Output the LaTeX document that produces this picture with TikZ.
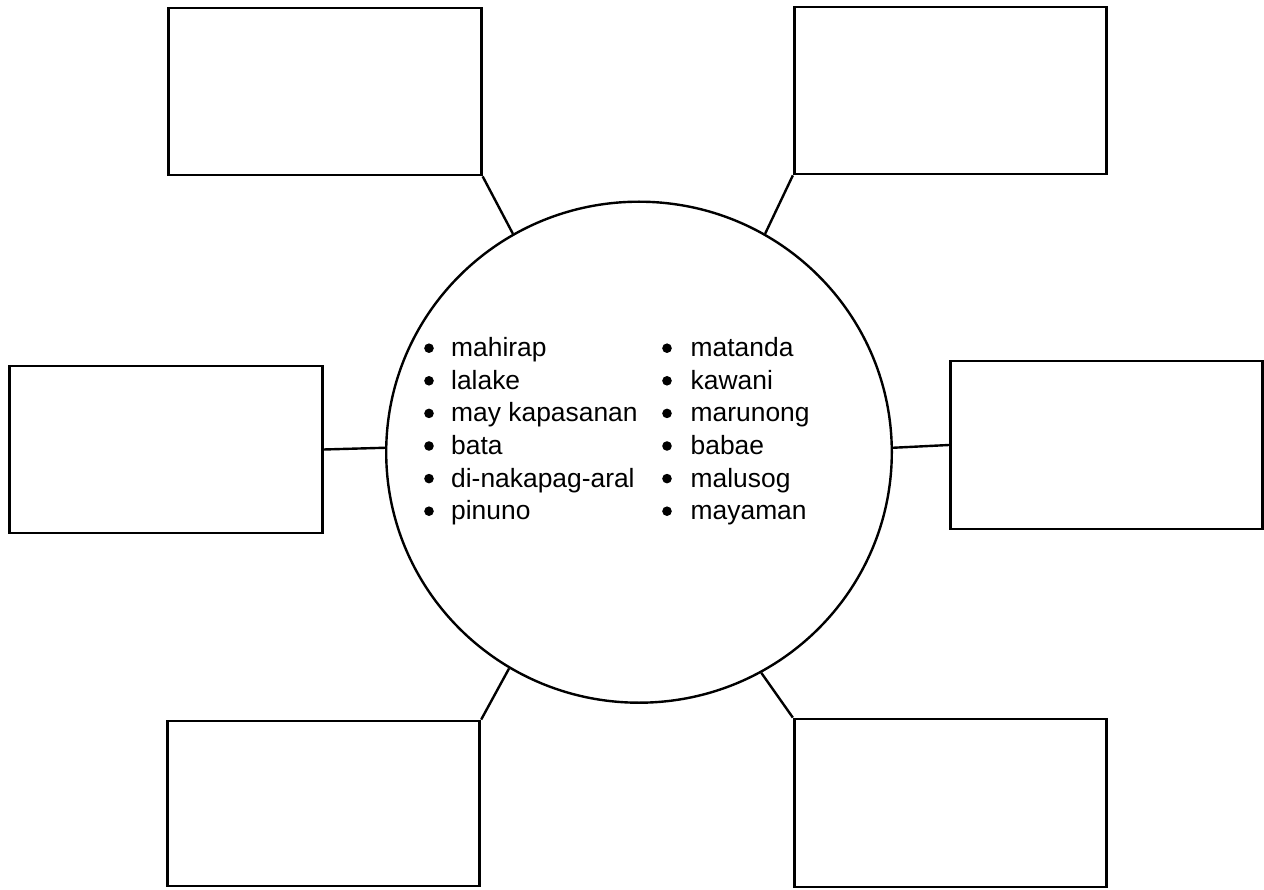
\documentclass[tikz,border=0pt]{standalone}
\usepackage{fontspec}
\setmainfont{Liberation Sans}
\usetikzlibrary{shapes.geometric}
\begin{document}
\begin{tikzpicture}[x=1pt,y=-1pt,
  blank/.style={draw,line width=2.8pt,rectangle,inner sep=0pt,minimum width=312.5pt,minimum height=167pt},
  hub/.style={draw,line width=2.4pt,ellipse,inner sep=0pt,minimum width=505.6pt,minimum height=501pt},
  link/.style={line width=2.4pt},
  item/.style={anchor=base west,inner sep=0pt,font=\fontsize{26.4}{30}\selectfont},
  dot/.style={fill=black,circle,inner sep=0pt,minimum size=9.6pt}]
\useasboundingbox (0,0) rectangle (1264,890);
\node[hub] (c) at (639,452.2) {};
\node[blank] (tl) at (325,91.5) {};
\node[blank] (tr) at (950.5,90.5) {};
\node[blank] (ml) at (166,449.5) {};
\node[blank,minimum height=168pt] (mr) at (1106.5,445) {};
\node[blank,minimum height=165pt] (bl) at (323.5,803.5) {};
\node[blank,minimum height=168pt] (br) at (950.5,803) {};
\draw[link] (tl.south east) -- (c.120.3);
\draw[link] (tr.south west) -- (c.60.5);
\draw[link] (ml.east) -- (c.179);
\draw[link] (mr.west) -- (c.1.2);
\draw[link] (bl.north east) -- (c.239.4);
\draw[link] (br.north west) -- (c.299.7);
\foreach \t [count=\i from 0] in {mahirap,lalake,may kapasanan,bata,di-nakapag-aral,pinuno} {
  \node[dot] (lb\i) at (429,356.7+32.6*\i-8.5) {};
  \node[item] (lt\i) at (451,356.7+32.6*\i) {\t};
}
\foreach \t [count=\i from 0] in {matanda,kawani,marunong,babae,malusog,mayaman} {
  \node[dot] (rb\i) at (667,356.7+32.6*\i-8.5) {};
  \node[item] (rt\i) at (690.5,356.7+32.6*\i) {\t};
}
\end{tikzpicture}
\end{document}
